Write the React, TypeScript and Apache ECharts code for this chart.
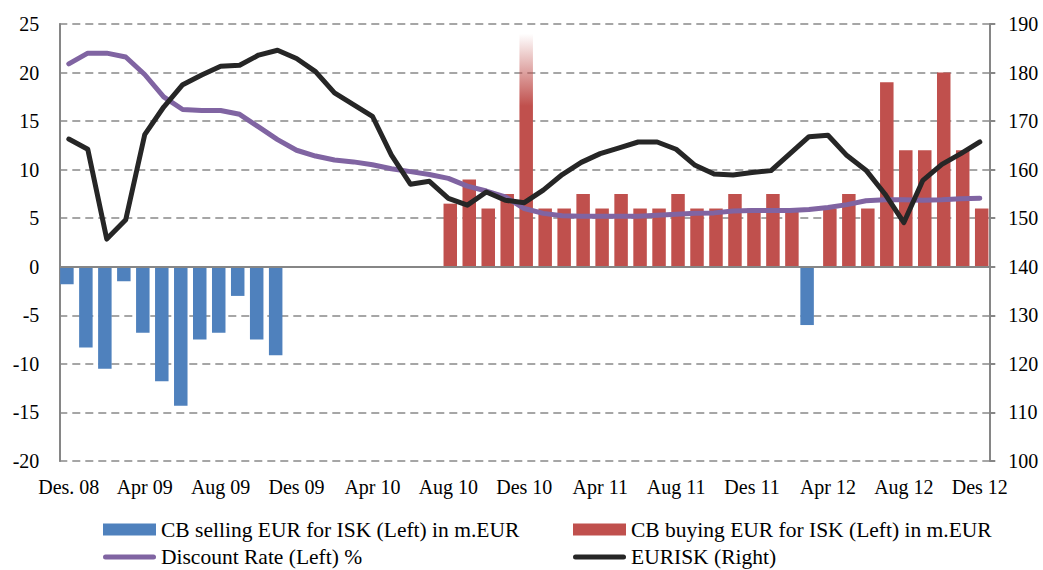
import React, { useEffect, useRef } from "react";
import * as echarts from "echarts";

const categories: string[] = [
  "Des. 08",
  "Jan 09", "Feb 09", "Mar 09", "Apr 09", "May 09", "Jun 09", "Jul 09", "Aug 09", "Sep 09", "Oct 09", "Nov 09", "Des 09",
  "Jan 10", "Feb 10", "Mar 10", "Apr 10", "May 10", "Jun 10", "Jul 10", "Aug 10", "Sep 10", "Oct 10", "Nov 10", "Des 10",
  "Jan 11", "Feb 11", "Mar 11", "Apr 11", "May 11", "Jun 11", "Jul 11", "Aug 11", "Sep 11", "Oct 11", "Nov 11", "Des 11",
  "Jan 12", "Feb 12", "Mar 12", "Apr 12", "May 12", "Jun 12", "Jul 12", "Aug 12", "Sep 12", "Oct 12", "Nov 12", "Des 12",
];

const sellingEUR: (number | null)[] = [
  -1.8, -8.3, -10.5, -1.5, -6.8, -11.8, -14.3, -7.5, -6.8, -3.0, -7.5, -9.1,
  null, null, null, null, null, null, null, null, null, null, null, null,
  null, null, null, null, null, null, null, null, null, null, null, null,
  null, null, null, -6.0, null, null, null, null, null, null, null, null, null,
];

const buyingEUR: (number | null)[] = [
  null, null, null, null, null, null, null, null, null, null, null, null,
  null, null, null, null, null, null, null, null, 6.5, 9, 6, 7.5, 24,
  6, 6, 7.5, 6, 7.5, 6, 6, 7.5, 6, 6, 7.5, 6,
  7.5, 6, null, 6, 7.5, 6, 19, 12, 12, 20, 12, 6,
];

// index of the bar drawn with a fading top (off-scale value)
const fadedBarIndex = 24;

const discountRate: number[] = [
  20.9, 22.0, 22.0, 21.6, 19.8, 17.5, 16.2, 16.1, 16.1, 15.7, 14.4, 13.1, 12.0,
  11.4, 11.0, 10.8, 10.5, 10.1, 9.8, 9.5, 9.1, 8.3, 7.8, 7.2, 6.0,
  5.5, 5.25, 5.2, 5.2, 5.2, 5.2, 5.3, 5.4, 5.5, 5.55, 5.75, 5.8,
  5.8, 5.8, 5.9, 6.1, 6.4, 6.8, 6.9, 6.9, 6.85, 6.9, 7.0, 7.05,
];

const eurIsk: number[] = [
  166.3, 164.2, 145.7, 149.7, 167.2, 172.9, 177.5, 179.5, 181.3, 181.5, 183.6, 184.6, 182.9,
  180.2, 175.8, 173.4, 171.0, 163.0, 157.0, 157.6, 154.1, 152.7, 155.4, 153.7, 153.2,
  155.8, 159.0, 161.5, 163.3, 164.5, 165.7, 165.7, 164.2, 160.9, 159.1, 158.9, 159.4,
  159.8, 163.3, 166.8, 167.1, 162.9, 159.9, 155.0, 149.1, 157.8, 161.1, 163.3, 165.7,
];

const seriesNames = [
  "CB selling EUR for ISK (Left) in m.EUR",
  "CB buying EUR for ISK (Left) in m.EUR",
  "Discount Rate (Left) %",
  "EURISK (Right)",
];

const FONT = "Liberation Serif, Times New Roman, serif";
const BLUE = "#4F81BD";
const RED = "#C0504D";
const PURPLE = "#8064A2";
const BLACK = "#262626";
const AXIS = "#868686";
const GRID = "#A6A6A6";

const LINE_ICON = "path://M2.5,0 L50.5,0 A2.5,2.5 0 0 1 50.5,5 L2.5,5 A2.5,2.5 0 0 1 2.5,0 Z";

export default function App() {
  const ref = useRef<HTMLDivElement>(null);

  useEffect(() => {
    if (!ref.current) return;
    const chart = echarts.init(ref.current, undefined, { renderer: "svg" });

    const buyingData = buyingEUR.map((v, i) =>
      i === fadedBarIndex && v != null
        ? {
            value: v,
            itemStyle: {
              color: new echarts.graphic.LinearGradient(0, 0, 0, 1, [
                { offset: 0, color: "rgba(192,80,77,0)" },
                { offset: 0.31, color: RED },
                { offset: 1, color: RED },
              ]),
            },
          }
        : v
    );

    const legendText = { fontFamily: FONT, fontSize: 21.5, color: "#000", lineHeight: 21 };
    const legendBase = {
      orient: "horizontal" as const,
      itemWidth: 53,
      itemHeight: 12,
      padding: 0,
      textStyle: legendText,
      selectedMode: false,
    };

    chart.setOption({
      animation: false,
      backgroundColor: "#fff",
      textStyle: { fontFamily: FONT },
      grid: { left: 59.3, right: 53.7, top: 24, bottom: 109, containLabel: false },
      legend: [
        { ...legendBase, left: 103, top: 518.5, data: [{ name: seriesNames[0], icon: "rect" }] },
        { ...legendBase, left: 573, top: 518.5, data: [{ name: seriesNames[1], icon: "rect" }] },
        {
          ...legendBase,
          left: 103,
          top: 546,
          itemHeight: 5,
          data: [{ name: seriesNames[2], icon: LINE_ICON, itemStyle: { color: PURPLE } }],
        },
        {
          ...legendBase,
          left: 573,
          top: 546,
          itemHeight: 5,
          data: [{ name: seriesNames[3], icon: LINE_ICON, itemStyle: { color: BLACK } }],
        },
      ],
      xAxis: {
        type: "category",
        data: categories,
        boundaryGap: true,
        axisLine: { show: false, onZero: false },
        axisTick: { show: false },
        axisLabel: {
          interval: 3,
          fontFamily: FONT,
          fontSize: 20,
          color: "#000",
          margin: 16,
        },
        splitLine: { show: false },
      },
      yAxis: [
        {
          type: "value",
          min: -20,
          max: 25,
          interval: 5,
          axisLine: { show: true, lineStyle: { color: AXIS, width: 2 } },
          axisTick: { show: false },
          axisLabel: { fontFamily: FONT, fontSize: 20, color: "#000", margin: 20 },
          splitLine: { show: true, lineStyle: { color: GRID, width: 2, type: [8, 5] } },
        },
        {
          type: "value",
          min: 100,
          max: 190,
          interval: 10,
          position: "right",
          axisLine: { show: true, lineStyle: { color: AXIS, width: 2 } },
          axisTick: { show: true, inside: false, length: 6, lineStyle: { color: AXIS, width: 2 } },
          axisLabel: { fontFamily: FONT, fontSize: 20, color: "#000", margin: 19 },
          splitLine: { show: false },
        },
      ],
      series: [
        {
          name: seriesNames[0],
          type: "bar",
          yAxisIndex: 0,
          data: sellingEUR,
          barWidth: 13.5,
          barGap: "-72%",
          itemStyle: { color: BLUE },
          markLine: {
            silent: true,
            symbol: "none",
            label: { show: false },
            lineStyle: { color: AXIS, width: 2, type: "solid" },
            data: [{ yAxis: 0 }],
          },
        },
        {
          name: seriesNames[1],
          type: "bar",
          yAxisIndex: 0,
          data: buyingData,
          barWidth: 13.5,
          barGap: "-72%",
          itemStyle: { color: RED },
        },
        {
          name: seriesNames[2],
          type: "line",
          yAxisIndex: 0,
          data: discountRate,
          symbol: "none",
          showSymbol: false,
          lineStyle: { color: PURPLE, width: 5, cap: "round", join: "round" },
          itemStyle: { color: PURPLE },
          z: 3,
        },
        {
          name: seriesNames[3],
          type: "line",
          yAxisIndex: 1,
          data: eurIsk,
          symbol: "none",
          showSymbol: false,
          lineStyle: { color: BLACK, width: 5, cap: "round", join: "round" },
          itemStyle: { color: BLACK },
          z: 4,
        },
      ],
    });

    return () => chart.dispose();
  }, []);

  return (
    <div
      ref={ref}
      style={{ position: "absolute", left: 0, top: 0, width: 1043, height: 570 }}
    />
  );
}
